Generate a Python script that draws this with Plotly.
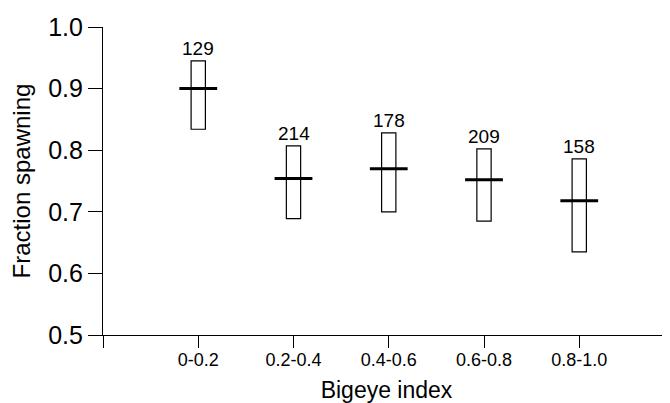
import plotly.graph_objects as go

categories = ["0-0.2", "0.2-0.4", "0.4-0.6", "0.6-0.8", "0.8-1.0"]
median = [0.900, 0.754, 0.770, 0.752, 0.718]
low = [0.834, 0.689, 0.700, 0.685, 0.635]
high = [0.945, 0.807, 0.828, 0.802, 0.786]
n_fish = [129, 214, 178, 209, 158]

xpos = list(range(len(categories)))
FONT = "Liberation Sans, Arial, sans-serif"

fig = go.Figure()
fig.add_trace(go.Bar(
    x=xpos, y=[h - l for h, l in zip(high, low)], base=low,
    width=0.15, marker=dict(color="white", line=dict(color="black", width=1.2)),
    showlegend=False, hoverinfo="skip"))
fig.add_trace(go.Scatter(
    x=xpos, y=median, mode="markers",
    marker=dict(symbol="line-ew", size=27, line=dict(color="black", width=3)),
    showlegend=False, hoverinfo="skip"))

for x, h, n in zip(xpos, high, n_fish):
    fig.add_annotation(x=x, y=h, text=str(n), showarrow=False,
                       yanchor="bottom", yshift=0,
                       font=dict(family=FONT, size=19, color="black"))

# page body has an 8px margin, so the figure is drawn 8px smaller and offset
fig.update_layout(
    width=662, height=395,
    margin=dict(l=95, r=0, t=19, b=68, autoexpand=False),
    plot_bgcolor="white", paper_bgcolor="white",
    font=dict(family=FONT, color="black"),
    xaxis=dict(range=[-1, -1 + 567 / 95.25], automargin=False,
               tickvals=[-1] + xpos, ticktext=[""] + categories,
               ticks="outside", ticklen=12, tickwidth=1.2, tickcolor="black",
               showline=True, linecolor="black", linewidth=1.2,
               showgrid=False, zeroline=False,
               tickfont=dict(size=18), ticklabelstandoff=-4,
               title=dict(text="Bigeye index", font=dict(size=23), standoff=14)),
    yaxis=dict(range=[0.5, 1.0], automargin=False,
               tickvals=[0.5, 0.6, 0.7, 0.8, 0.9, 1.0],
               ticktext=["0.5", "0.6", "0.7", "0.8", "0.9", "1.0"],
               ticks="outside", ticklen=14, tickwidth=1.2, tickcolor="black",
               showline=True, linecolor="black", linewidth=1.2,
               showgrid=False, zeroline=False,
               tickfont=dict(size=25),
               title=dict(text="Fraction spawning", font=dict(size=24), standoff=13)),
)

fig.write_html("out.html")
